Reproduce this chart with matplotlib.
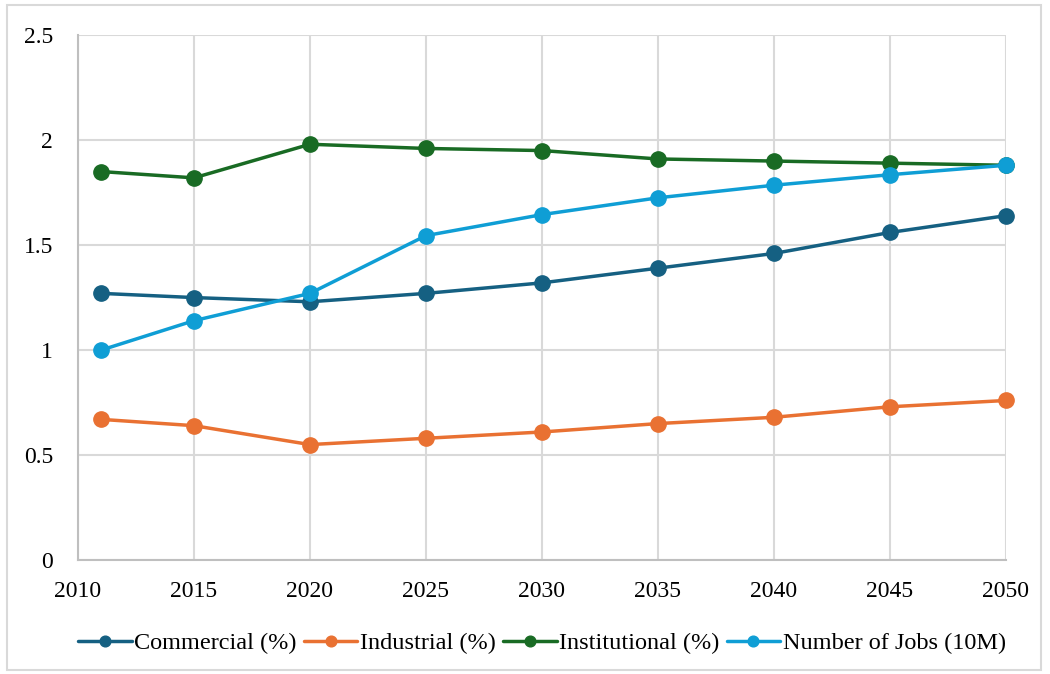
import matplotlib
matplotlib.use("Agg")
import matplotlib.pyplot as plt
from matplotlib.patches import Rectangle

plt.rcParams['font.family'] = ['Liberation Serif', 'DejaVu Serif']

years = [2011, 2015, 2020, 2025, 2030, 2035, 2040, 2045, 2050]
commercial = [1.27, 1.25, 1.23, 1.27, 1.32, 1.39, 1.46, 1.56, 1.64]
industrial = [0.67, 0.64, 0.55, 0.58, 0.61, 0.65, 0.68, 0.73, 0.76]
institutional = [1.85, 1.82, 1.98, 1.96, 1.95, 1.91, 1.90, 1.89, 1.88]
jobs = [1.00, 1.14, 1.27, 1.545, 1.645, 1.725, 1.785, 1.835, 1.88]

series = [
    ("Commercial (%)", commercial, "#156082"),
    ("Industrial (%)", industrial, "#E97132"),
    ("Institutional (%)", institutional, "#196B24"),
    ("Number of Jobs (10M)", jobs, "#0F9ED5"),
]

fig = plt.figure(figsize=(10.5, 6.74), dpi=100)
ax = fig.add_axes([0.0743, 0.169, 0.8837, 0.779])

for name, vals, col in series:
    ax.plot(years, vals, color=col, lw=2.5, marker='o', ms=11, label=name,
            solid_capstyle='round', clip_on=False)

ax.set_xlim(2010, 2050)
ax.set_ylim(0, 2.5)
ax.set_xticks(range(2010, 2051, 5))
ax.set_yticks([0, 0.5, 1, 1.5, 2, 2.5])
ax.set_yticklabels(['0', '0.5', '1', '1.5', '2', '2.5'])
ax.grid(True, color='#D9D9D9', lw=1.5)
ax.set_axisbelow(True)
for s in ['top', 'right']:
    ax.spines[s].set_visible(False)
for s in ['left', 'bottom']:
    ax.spines[s].set_color('#BFBFBF')
    ax.spines[s].set_linewidth(1.5)
ax.tick_params(length=0, labelsize=17, colors='black')
ax.tick_params(axis='y', pad=18)
ax.tick_params(axis='x', pad=15)

ax.legend(loc='center', bbox_to_anchor=(0.5, -0.158), ncol=4, frameon=False,
          fontsize=17.5, handlelength=2.2, handletextpad=0.1, columnspacing=0.3,
          markerscale=0.7)

fig.patches.append(Rectangle((0.007, 0.006), 0.984, 0.986, transform=fig.transFigure,
                             fill=False, edgecolor='#D9D9D9', lw=1.5))

fig.savefig("out.png", dpi=100)
